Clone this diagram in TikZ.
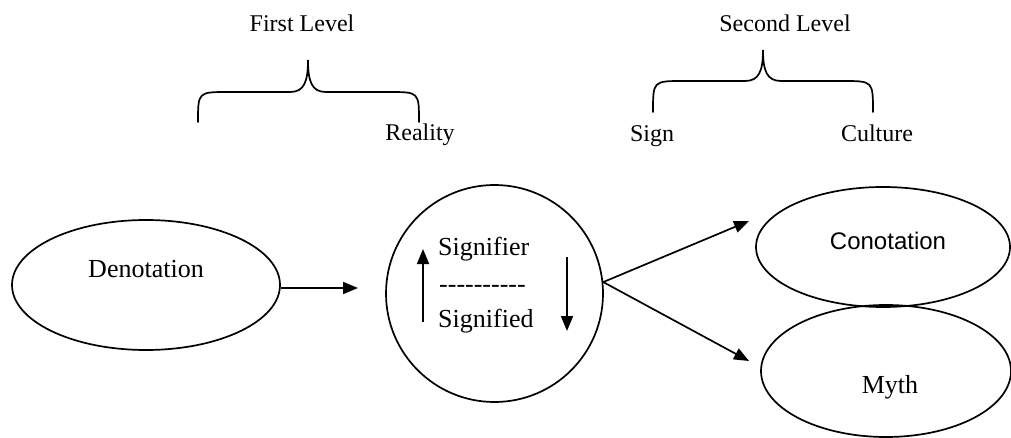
\documentclass[tikz,border=0pt]{standalone}
\usepackage{fontspec}
\setmainfont{Liberation Serif}
\newfontfamily\arialfont{Liberation Sans}
\usetikzlibrary{shapes.geometric,arrows.meta}
\newcommand\hyph{-\kern0pt}
\tikzset{
  oval/.style={draw, ellipse, line width=1.7pt, inner sep=0pt},
  lbl/.style={font=\fontsize{24}{28}\selectfont, inner sep=0pt, anchor=base},
  big/.style={font=\fontsize{26}{30}\selectfont, inner sep=0pt, anchor=base},
  arr/.style={line width=1.7pt, -{Triangle[length=15pt,width=12pt]}},
  bracepath/.style={line width=1.7pt, line cap=round}
}
\begin{document}
\begin{tikzpicture}[x=1pt,y=-1pt]
\useasboundingbox (0,0) rectangle (1011,438);
% labels
\node[lbl] (first) at (302,32) {First Level};
\node[lbl] (second) at (785,32) {Second Level};
\node[lbl] (reality) at (420,141) {Reality};
\node[lbl] (sign) at (652,142) {Sign};
\node[lbl] (culture) at (877,142) {Culture};
% braces
\draw[bracepath] (198,122) .. controls (198,92) .. (228,92) -- (290,92)
  .. controls (304,92) and (308,82) .. (308,60)
  .. controls (308,82) and (312,92) .. (326,92) -- (389,92)
  .. controls (419,92) .. (419,122);
\draw[bracepath] (653,112) .. controls (653,81) .. (683,81) -- (745,81)
  .. controls (759,81) and (763,71) .. (763,50)
  .. controls (763,71) and (767,81) .. (781,81) -- (843,81)
  .. controls (873,81) .. (873,112);
% nodes
\node[oval, minimum width=268pt, minimum height=130pt] (den) at (146,285) {};
\node[big] (dent) at (146,277) {Denotation};
\node[draw, circle, line width=1.7pt, minimum size=217pt, inner sep=0pt] (circ) at (494.5,293.5) {};
\node[big, anchor=base west] (sfr) at (438,255) {Signifier};
\node[big, anchor=base west] (dash) at (439,292) {\hyph\hyph\hyph\hyph\hyph\hyph\hyph\hyph\hyph\hyph};
\node[big, anchor=base west] (sfd) at (438,327) {Signified};
\node[oval, minimum width=254pt, minimum height=120pt] (con) at (883,247) {};
\node[inner sep=0pt, anchor=base, font=\arialfont\fontsize{24}{28}\selectfont] (cont) at (888,250) {Conotation};
\node[oval, minimum width=250pt, minimum height=132pt] (myth) at (886,371) {};
\node[big] (mytht) at (890,393) {Myth};
% connector end points
\coordinate (a1) at (358,288);
\coordinate (upa) at (423,322);
\coordinate (upb) at (423,249);
\coordinate (dna) at (567,257);
\coordinate (dnb) at (567,331);
\coordinate (t1) at (749,221);
\coordinate (t2) at (749,361);
% connectors
\draw[arr] (den.east |- a1) -- (a1);
\draw[arr] (upa) -- (upb);
\draw[arr] (dna) -- (dnb);
\draw[arr] (circ.6) -- (t1);
\draw[arr] (circ.6) -- (t2);
\end{tikzpicture}
\end{document}
